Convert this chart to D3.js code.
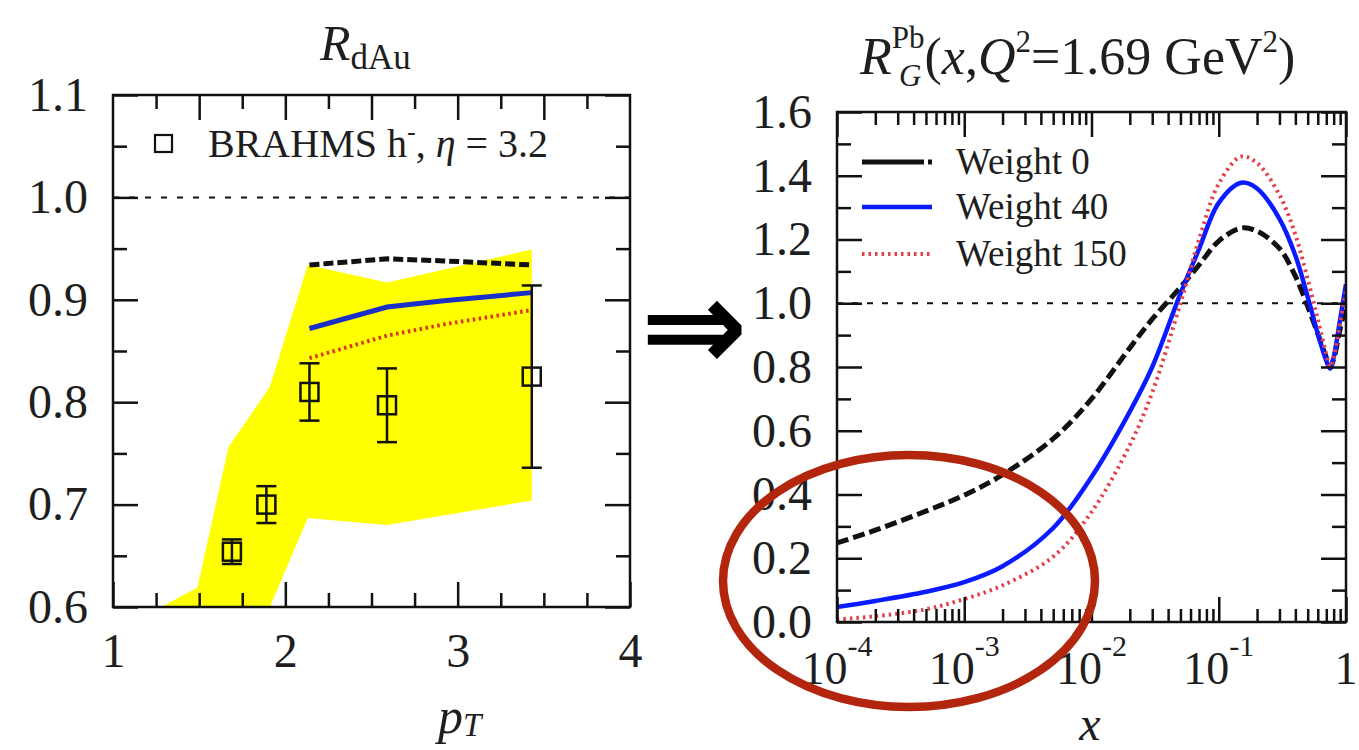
<!DOCTYPE html>
<html>
<head>
<meta charset="utf-8">
<script src="https://cdn.jsdelivr.net/npm/d3@7"></script>
<style>
body { margin: 0; background: #fff; }
svg text { font-family: "Liberation Serif", "DejaVu Serif", serif; fill: #1e1e1e; }
</style>
</head>
<body>
<div id="chart"></div>
<script>
// linker paneel: R_dAu tegen p_T
const ptData = [1.69, 1.89, 2.14, 2.59, 3.43]
const rData = [0.654, 0.700, 0.810, 0.797, 0.825]
const errData = [0.012, 0.018, 0.028, 0.036, 0.089]

// gele band (boven- en onderrand)
const bandX = [1.28, 1.49, 1.67, 1.91, 2.13, 2.59, 3.43]
const bandHi = [0.600, 0.619, 0.756, 0.815, 0.934, 0.917, 0.949]
const bandLo = [0.450, 0.480, 0.520, 0.600, 0.687, 0.680, 0.704]

// theorie lijnen
const curveX = [2.14, 2.59, 2.92, 3.43]
const curveW0 = [0.934, 0.940, 0.938, 0.934]
const curveW40 = [0.872, 0.893, 0.899, 0.907]
const curveW150 = [0.843, 0.865, 0.876, 0.890]

// rechter paneel: R_G^Pb tegen x
const xGrid = [1e-4, 2e-4, 5e-4, 1e-3, 2e-3, 5e-3, 0.01, 0.02, 0.03, 0.05, 0.07, 0.1, 0.15, 0.2, 0.3, 0.4, 0.5, 0.6, 0.7, 0.75, 0.8, 0.9, 1.0]
const gW0 = [0.248, 0.288, 0.348, 0.398, 0.462, 0.575, 0.700, 0.860, 0.950, 1.050, 1.120, 1.195, 1.236, 1.226, 1.172, 1.085, 0.990, 0.905, 0.830, 0.800, 0.825, 0.920, 1.000]
const gW40 = [0.047, 0.066, 0.095, 0.125, 0.175, 0.295, 0.455, 0.660, 0.800, 1.030, 1.170, 1.315, 1.378, 1.360, 1.265, 1.150, 1.020, 0.905, 0.820, 0.795, 0.830, 0.950, 1.060]
const gW150 = [0.008, 0.018, 0.040, 0.072, 0.115, 0.205, 0.345, 0.555, 0.720, 1.000, 1.200, 1.375, 1.460, 1.440, 1.340, 1.215, 1.075, 0.950, 0.840, 0.800, 0.830, 0.940, 1.040]
const legendLabels = ['Weight 0', 'Weight 40', 'Weight 150']

// tick labels
const leftYTicks = [0.6, 0.7, 0.8, 0.9, 1.0, 1.1]
const leftXTicks = [1, 2, 3, 4]
const rightYTicks = [0, 0.2, 0.4, 0.6, 0.8, 1.0, 1.2, 1.4, 1.6]
const rightXTicks = [1e-4, 1e-3, 1e-2, 1e-1, 1]

const width = 1359
const height = 750

const svg = d3.select('#chart').append('svg')
    .attr('width', width)
    .attr('height', height)

// schalen
const xL = d3.scaleLinear().domain([1, 4]).range([113, 630])
const yL = d3.scaleLinear().domain([0.6, 1.1]).range([607, 95])
const xR = d3.scaleLog().domain([1e-4, 1]).range([837, 1346])
const yR = d3.scaleLinear().domain([0, 1.6]).range([622, 112])

const black = '#111'
const major = 25
const minor = 14

svg.append('clipPath').attr('id', 'clipL').append('rect')
    .attr('x', 113).attr('y', 95).attr('width', 517).attr('height', 512)
svg.append('clipPath').attr('id', 'clipR').append('rect')
    .attr('x', 837).attr('y', 112).attr('width', 509).attr('height', 510)

// ---------- linker paneel ----------
const gL = svg.append('g').attr('clip-path', 'url(#clipL)')

const band = d3.area()
    .x(i => xL(bandX[i]))
    .y0(i => yL(bandLo[i]))
    .y1(i => yL(bandHi[i]))
gL.append('path')
    .attr('d', band(d3.range(bandX.length)))
    .attr('fill', '#ffff00')

gL.append('line')
    .attr('x1', xL(1)).attr('x2', xL(4))
    .attr('y1', yL(1)).attr('y2', yL(1))
    .attr('stroke', black).attr('stroke-width', 2).attr('stroke-dasharray', '6,10')

const lineL = arr => d3.line().x((d, i) => xL(curveX[i])).y(d => yL(d))(arr)
gL.append('path').attr('d', lineL(curveW0)).attr('fill', 'none')
    .attr('stroke', black).attr('stroke-width', 5).attr('stroke-dasharray', '10,4')
gL.append('path').attr('d', lineL(curveW40)).attr('fill', 'none')
    .attr('stroke', '#1a2fc8').attr('stroke-width', 5)
gL.append('path').attr('d', lineL(curveW150)).attr('fill', 'none')
    .attr('stroke', '#d9361a').attr('stroke-width', 4).attr('stroke-dasharray', '2.5,3.5')

// datapunten met foutbalken
const pts = gL.selectAll('g.pt').data(ptData).enter().append('g').attr('class', 'pt')
pts.append('line')
    .attr('x1', d => xL(d)).attr('x2', d => xL(d))
    .attr('y1', (d, i) => yL(rData[i] + errData[i]))
    .attr('y2', (d, i) => yL(rData[i] - errData[i]))
    .attr('stroke', black).attr('stroke-width', 2.5)
;[1, -1].forEach(s => {
    pts.append('line')
        .attr('x1', d => xL(d) - 10).attr('x2', d => xL(d) + 10)
        .attr('y1', (d, i) => yL(rData[i] + s * errData[i]))
        .attr('y2', (d, i) => yL(rData[i] + s * errData[i]))
        .attr('stroke', black).attr('stroke-width', 2.5)
})
pts.append('rect')
    .attr('x', d => xL(d) - 9).attr('y', (d, i) => yL(rData[i]) - 9)
    .attr('width', 18).attr('height', 18)
    .attr('fill', 'none').attr('stroke', black).attr('stroke-width', 2.5)

// assen links
const xMinorL = d3.range(1.25, 4, 0.25)
const yMinorL = d3.range(0.65, 1.1, 0.1)
function tickStyle(g) {
    g.select('.domain').remove()
    g.selectAll('line').attr('stroke', black).attr('stroke-width', 2.5)
}
svg.append('g').attr('transform', 'translate(0,607)')
    .call(d3.axisBottom(xL).tickValues(xMinorL.filter(v => v % 1 !== 0)).tickSize(-minor).tickFormat(''))
    .call(tickStyle)
svg.append('g').attr('transform', 'translate(0,607)')
    .call(d3.axisBottom(xL).tickValues(leftXTicks).tickSize(-major).tickPadding(26).tickFormat(d3.format('d')))
    .call(tickStyle)
    .selectAll('text').attr('font-size', 48).attr('fill', '#1e1e1e')
svg.append('g').attr('transform', 'translate(0,95)')
    .call(d3.axisTop(xL).tickValues(xMinorL.filter(v => v % 0.5 !== 0)).tickSize(-minor).tickFormat(''))
    .call(tickStyle)
svg.append('g').attr('transform', 'translate(0,95)')
    .call(d3.axisTop(xL).tickValues(xMinorL.filter(v => v % 0.5 === 0)).tickSize(-major).tickFormat(''))
    .call(tickStyle)
svg.append('g').attr('transform', 'translate(113,0)')
    .call(d3.axisLeft(yL).tickValues(yMinorL).tickSize(-minor).tickFormat(''))
    .call(tickStyle)
svg.append('g').attr('transform', 'translate(113,0)')
    .call(d3.axisLeft(yL).tickValues(leftYTicks).tickSize(-major).tickPadding(25).tickFormat(d3.format('.1f')))
    .call(tickStyle)
    .selectAll('text').attr('font-size', 48).attr('fill', '#1e1e1e')
svg.append('g').attr('transform', 'translate(630,0)')
    .call(d3.axisRight(yL).tickValues(yMinorL).tickSize(-minor).tickFormat(''))
    .call(tickStyle)
svg.append('g').attr('transform', 'translate(630,0)')
    .call(d3.axisRight(yL).tickValues(leftYTicks).tickSize(-major).tickFormat(''))
    .call(tickStyle)
svg.append('rect').attr('x', 113).attr('y', 95).attr('width', 517).attr('height', 512)
    .attr('fill', 'none').attr('stroke', black).attr('stroke-width', 2.5)

// legenda links
svg.append('rect').attr('x', 155).attr('y', 135).attr('width', 17).attr('height', 17)
    .attr('fill', 'none').attr('stroke', black).attr('stroke-width', 2.2)
const brahms = svg.append('text').attr('x', 208).attr('y', 157).attr('font-size', 40)
brahms.append('tspan').text('BRAHMS h')
brahms.append('tspan').attr('dy', -17).attr('font-size', 26).text('-')
brahms.append('tspan').attr('dy', 17).text(', ')
brahms.append('tspan').attr('font-style', 'italic').text('η')
brahms.append('tspan').text(' = 3.2')

// titel en as-label links
const tL = svg.append('text').attr('x', 320).attr('y', 60).attr('font-size', 50)
tL.append('tspan').attr('font-style', 'italic').text('R')
tL.append('tspan').attr('dy', 9).attr('font-size', 35).text('dAu')

const pT = svg.append('text').attr('x', 438).attr('y', 733).attr('font-size', 50)
pT.append('tspan').attr('font-style', 'italic').text('p')
pT.append('tspan').attr('dy', 3).attr('font-size', 33).attr('font-style', 'italic').text('T')

// ---------- pijl ----------
svg.append('text').attr('x', 694).attr('y', 370).attr('text-anchor', 'middle')
    .attr('font-size', 128).attr('font-weight', 'bold')
    .style('font-family', '"DejaVu Sans", sans-serif').style('fill', '#000')
    .text('⇒')

// ---------- rechter paneel ----------
const gR = svg.append('g').attr('clip-path', 'url(#clipR)')
gR.append('line')
    .attr('x1', 837).attr('x2', 1346)
    .attr('y1', yR(1)).attr('y2', yR(1))
    .attr('stroke', black).attr('stroke-width', 2).attr('stroke-dasharray', '6,9')

const lineR = arr => d3.line().curve(d3.curveCatmullRom.alpha(0.5))
    .x((d, i) => xR(xGrid[i])).y(d => yR(d))(arr)
const seriesR = [
    { vals: gW0, color: black, w: 5, dash: '12,5', legDash: '62,4,5' },
    { vals: gW40, color: '#0a1cff', w: 4.5, dash: null, legDash: null },
    { vals: gW150, color: '#e2404a', w: 4, dash: '2.5,4', legDash: '2.5,4' }
]
seriesR.forEach(s => {
    gR.append('path').attr('d', lineR(s.vals)).attr('fill', 'none')
        .attr('stroke', s.color).attr('stroke-width', s.w)
        .attr('stroke-dasharray', s.dash)
})

// assen rechts
const logTicks = xR.ticks()
const decades = logTicks.filter(v => Math.abs(Math.log10(v) - Math.round(Math.log10(v))) < 1e-9)
const logMinor = logTicks.filter(v => !decades.includes(v))
const yMinorR = d3.range(0.1, 1.6, 0.2)

svg.append('g').attr('transform', 'translate(0,622)')
    .call(d3.axisBottom(xR).tickValues(logMinor).tickSize(-13).tickFormat(''))
    .call(tickStyle)
svg.append('g').attr('transform', 'translate(0,622)')
    .call(d3.axisBottom(xR).tickValues(decades).tickSize(-major).tickFormat(''))
    .call(tickStyle)
svg.append('g').attr('transform', 'translate(0,112)')
    .call(d3.axisTop(xR).tickValues(logMinor).tickSize(-13).tickFormat(''))
    .call(tickStyle)
svg.append('g').attr('transform', 'translate(0,112)')
    .call(d3.axisTop(xR).tickValues(decades).tickSize(-major).tickFormat(''))
    .call(tickStyle)
svg.append('g').attr('transform', 'translate(837,0)')
    .call(d3.axisLeft(yR).tickValues(yMinorR).tickSize(-minor).tickFormat(''))
    .call(tickStyle)
svg.append('g').attr('transform', 'translate(837,0)')
    .call(d3.axisLeft(yR).tickValues(rightYTicks).tickSize(-major).tickPadding(25).tickFormat(d3.format('.1f')))
    .call(tickStyle)
    .selectAll('text').attr('font-size', 48).attr('fill', '#1e1e1e')
svg.append('g').attr('transform', 'translate(1346,0)')
    .call(d3.axisRight(yR).tickValues(yMinorR).tickSize(-minor).tickFormat(''))
    .call(tickStyle)
svg.append('g').attr('transform', 'translate(1346,0)')
    .call(d3.axisRight(yR).tickValues(rightYTicks).tickSize(-major).tickFormat(''))
    .call(tickStyle)
svg.append('rect').attr('x', 837).attr('y', 112).attr('width', 509).attr('height', 510)
    .attr('fill', 'none').attr('stroke', black).attr('stroke-width', 2.5)

// log labels 10^n
rightXTicks.forEach(v => {
    const e = Math.round(Math.log10(v))
    const t = svg.append('text').attr('x', xR(v)).attr('y', 684)
        .attr('text-anchor', 'middle').attr('font-size', 46)
    if (e === 0) {
        t.text('1')
    } else {
        t.append('tspan').text('10')
        t.append('tspan').attr('dy', -28).attr('font-size', 30).text(e)
    }
})

// legenda rechts
const legY = [162, 207, 254]
seriesR.forEach((s, i) => {
    svg.append('line').attr('x1', 862).attr('x2', 932)
        .attr('y1', legY[i]).attr('y2', legY[i])
        .attr('stroke', s.color).attr('stroke-width', s.w)
        .attr('stroke-dasharray', s.legDash)
    svg.append('text').attr('x', 956).attr('y', legY[i] + 12)
        .attr('font-size', 37).text(legendLabels[i])
})

// titel en as-label rechts
const tR = svg.append('text').attr('x', 860).attr('y', 74).attr('font-size', 52)
tR.append('tspan').attr('font-style', 'italic').text('R')
tR.append('tspan').attr('dy', -26).attr('font-size', 31).text('Pb')
tR.append('tspan').attr('dy', 26).text('(')
tR.append('tspan').attr('font-style', 'italic').text('x')
tR.append('tspan').text(',')
tR.append('tspan').attr('font-style', 'italic').text('Q')
tR.append('tspan').attr('dy', -22).attr('font-size', 31).text('2')
tR.append('tspan').attr('dy', 22).text('=1.69 GeV')
tR.append('tspan').attr('dy', -22).attr('font-size', 31).text('2')
tR.append('tspan').attr('dy', 22).text(')')
// subscript G onder Pb
svg.append('text').attr('x', 899).attr('y', 86).attr('font-size', 31)
    .attr('font-style', 'italic').text('G')

svg.append('text').attr('x', 1090).attr('y', 740).attr('text-anchor', 'middle')
    .attr('font-size', 48).attr('font-style', 'italic').text('x')

// rode ellips
svg.append('ellipse').attr('cx', 909).attr('cy', 581).attr('rx', 186).attr('ry', 126)
    .attr('fill', 'none').attr('stroke', '#b3260e').attr('stroke-width', 8.5)
</script>
</body>
</html>
